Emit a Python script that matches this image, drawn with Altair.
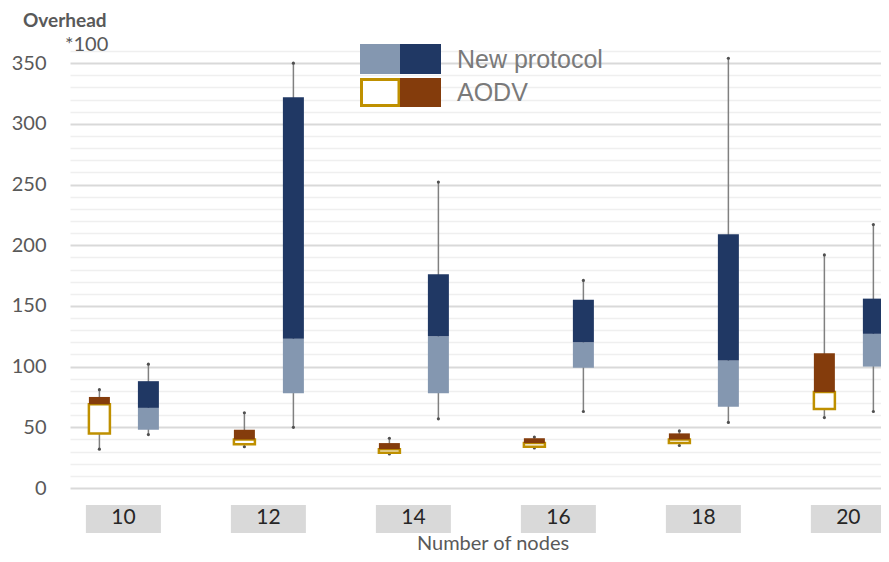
import altair as alt
import pandas as pd

# ---- data ----
nodes = [10, 12, 14, 16, 18, 20]

new_min = [44, 50, 57, 63, 54, 63]
new_q1 = [48, 78, 78, 99, 67, 100]
new_med = [66, 123, 125, 120, 105, 127]
new_q3 = [88, 322, 176, 155, 209, 156]
new_max = [102, 350, 252, 171, 354, 217]

aodv_min = [32, 34, 28, 33, 35, 58]
aodv_q1 = [45, 36, 29, 34, 37, 65]
aodv_med = [69, 40, 32, 37, 40, 79]
aodv_q3 = [75, 48, 37, 41, 45, 111]
aodv_max = [81, 62, 41, 42, 47, 192]

grid_values = list(range(0, 361, 10))
series_names = ["New protocol", "AODV"]

# ---- styling ----
FONT = "Lato"
GRAY_TXT = "#595959"
NEW_LOW, NEW_HIGH = "#8497B0", "#203864"
AODV_LOW_STROKE, AODV_HIGH = "#BF9000", "#843C0C"
W, H = 811, 437

new_df = pd.DataFrame(dict(nodes=nodes, lo=new_min, q1=new_q1, med=new_med, q3=new_q3, hi=new_max))
aodv_df = pd.DataFrame(dict(nodes=nodes, lo=aodv_min, q1=aodv_q1, med=aodv_med, q3=aodv_q3, hi=aodv_max))
nodes_df = pd.DataFrame(dict(nodes=nodes))
one = pd.DataFrame(dict(a=[0]))

xscale = alt.Scale(domain=[9.3324, 20.381], nice=False, zero=False)
yscale = alt.Scale(domain=[0, 360], nice=False)
X = alt.X("nodes:Q", scale=xscale, axis=None)

yaxis = alt.Axis(
    values=grid_values,
    labelExpr="datum.value % 50 === 0 ? datum.label : ''",
    gridColor=alt.condition("datum.value % 50 === 0", alt.value("#D9D9D9"), alt.value("#EFEFEF")),
    gridWidth=alt.condition("datum.value % 50 === 0", alt.value(2), alt.value(1.5)),
    domain=False, ticks=False, title=None,
    labelFont=FONT, labelFontSize=20, labelColor=GRAY_TXT, labelPadding=24,
)


def Yf(field):
    return alt.Y(field, scale=yscale, axis=yaxis)


def series(df, off, low_props, high_color):
    base = alt.Chart(df)
    whisk = base.mark_rule(color="#808080", strokeWidth=1.5, xOffset=off).encode(
        x=X, y=Yf("lo:Q"), y2="hi:Q")
    cap_lo = base.mark_point(filled=True, size=10, color="#505050", opacity=1, xOffset=off).encode(
        x=X, y=Yf("lo:Q"))
    cap_hi = base.mark_point(filled=True, size=10, color="#505050", opacity=1, xOffset=off).encode(
        x=X, y=Yf("hi:Q"))
    low = base.mark_bar(width=21, xOffset=off, **low_props).encode(
        x=X, y=Yf("q1:Q"), y2="med:Q")
    high = base.mark_bar(width=21, xOffset=off, color=high_color).encode(
        x=X, y=Yf("med:Q"), y2="q3:Q")
    return [whisk, cap_lo, cap_hi, low, high]


aodv_layers = series(aodv_df, -24, dict(fill="white", stroke=AODV_LOW_STROKE, strokeWidth=2.5),
                     AODV_HIGH)
new_layers = series(new_df, 25, dict(color=NEW_LOW), NEW_HIGH)

# category label boxes
box_shape = "M-1,-0.373H1V0.373H-1Z"
label_boxes = alt.Chart(nodes_df).mark_point(
    shape=box_shape, size=5625, filled=True, color="#D9D9D9", opacity=1
).encode(x=X, y=alt.value(468))
label_text = alt.Chart(nodes_df).mark_text(
    font=FONT, fontSize=21, color="#262626", baseline="middle"
).encode(x=X, y=alt.value(467), text="nodes:Q")

# titles
def txt(s, x, y, size, bold=False, color=GRAY_TXT, align="left", font=FONT):
    return alt.Chart(one).mark_text(
        text=s, font=font, fontSize=size, fontWeight="bold" if bold else "normal",
        color=color, align=align, baseline="middle"
    ).encode(x=alt.value(x), y=alt.value(y))


title = txt("Overhead", -47, -30, 19, bold=True)
unit = txt("*100", -5, -6, 20)
xtitle = txt("Number of nodes", 423, 492.5, 20, align="center")

# legend (two-tone swatches)
def swatch(x0, x1, y0, y1, **props):
    return alt.Chart(one).mark_rect(**props).encode(
        x=alt.value(x0), x2=alt.value(x1), y=alt.value(y0), y2=alt.value(y1))


legend = [
    swatch(290, 330, -7, 23, color=NEW_LOW),
    swatch(330, 371, -7, 23, color=NEW_HIGH),
    swatch(291.5, 329, 28.5, 54.5, fill="white", stroke=AODV_LOW_STROKE, strokeWidth=3),
    swatch(330, 371, 27, 56, color=AODV_HIGH),
    txt(series_names[0], 387, 9, 25, color="#7A7A7A", font="Liberation Sans"),
    txt(series_names[1], 387, 42, 25, color="#7A7A7A", font="Liberation Sans"),
]

chart = alt.layer(
    *aodv_layers, *new_layers, label_boxes, label_text, title, unit, xtitle, *legend
).properties(
    width=W, height=H,
    autosize=alt.AutoSizeParams(type="none"),
    padding={"left": 62, "top": 43, "right": 0, "bottom": 66},
).configure_view(stroke=None)

chart.save("out.html", embed_options={"renderer": "svg", "actions": False})
